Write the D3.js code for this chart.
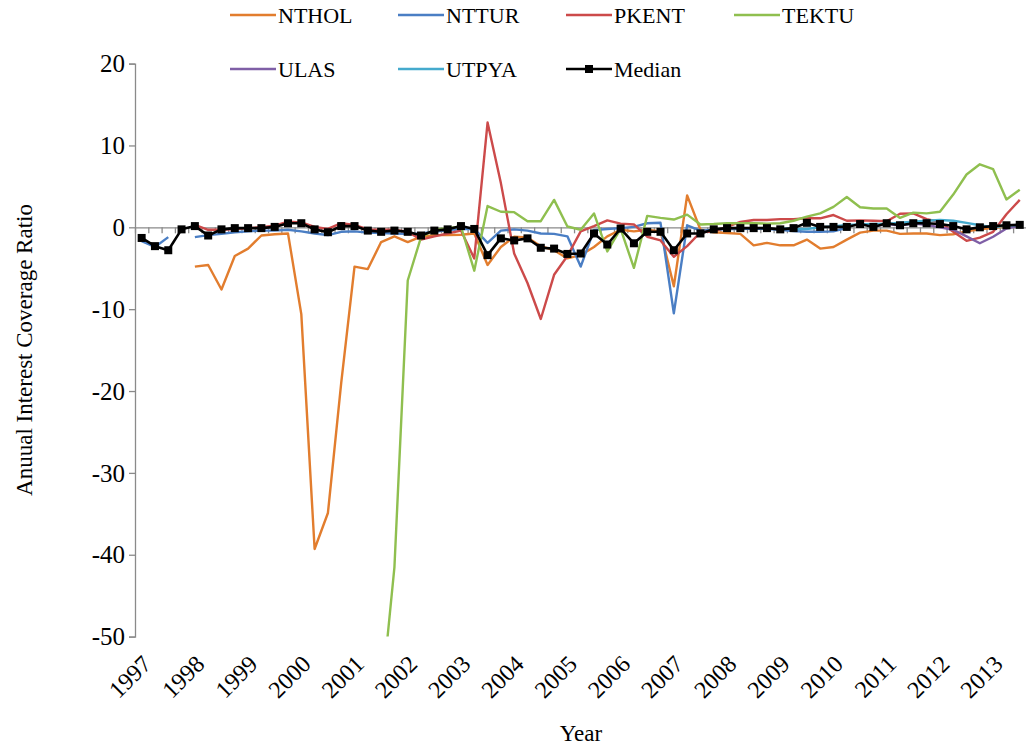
<!DOCTYPE html>
<html>
<head>
<meta charset="utf-8">
<script src="https://cdn.jsdelivr.net/npm/d3@7"></script>
<style>
  body { margin: 0; background: #fff; }
  svg text { font-family: "Liberation Serif", "Times New Roman", Times, serif; fill: #000; }
</style>
</head>
<body>
<div id="chart"></div>
<script>
const years = ['1997','1998','1999','2000','2001','2002','2003','2004','2005','2006','2007','2008','2009','2010','2011','2012','2013'];
const quarters = years.flatMap(y => ['Q1','Q2','Q3','Q4'].map(q => y + q)).slice(0, 67);
const yTicks = [-50, -40, -30, -20, -10, 0, 10, 20];

const nthol = [null,null,null,null,-4.8,-4.6,-7.6,-3.5,-2.6,-1.0,-0.85,-0.75,-10.6,-39.3,-34.9,-19,
  -4.8,-5.1,-1.8,-1.1,-1.8,-1.15,-0.95,-0.95,-0.9,-0.75,-4.6,-2.4,-1.15,-1.25,-2.3,-2.8,
  -3.8,-3.4,-2.4,-1.1,-0.3,-0.5,-0.3,-0.5,-7.2,3.9,-0.3,-0.6,-0.7,-0.8,-2.2,-1.9,
  -2.2,-2.2,-1.5,-2.6,-2.4,-1.5,-0.65,-0.4,-0.4,-0.8,-0.75,-0.75,-0.95,-0.85,-0.5,-0.25,-0.05,0.1,0.2];
const nttur = [-1.7,-2.4,-1.2,null,-1.2,-0.95,-0.8,-0.6,-0.5,-0.4,-0.4,-0.3,-0.5,-0.75,-0.95,-0.55,
  -0.5,-0.65,-0.7,-0.75,-0.8,-0.75,-0.55,-0.35,-0.2,-0.2,-1.9,-0.4,-0.25,-0.4,-0.75,-0.8,
  -1.1,-4.8,-0.35,-0.2,-0.1,0.05,0.5,0.55,-10.5,0.25,-0.4,-0.3,-0.2,-0.2,-0.15,-0.2,
  -0.3,-0.45,-0.55,-0.55,-0.5,-0.05,null,null,null,null,null,null,null,null,null,null,null,null,null];
const pkent = [null,null,null,null,0.3,-0.3,-0.3,-0.2,-0.1,0.0,0.2,0.7,0.6,0.05,-0.2,0.5,
  0.3,-0.25,-0.3,-0.3,-0.55,-1.5,-1.1,-0.75,-0.4,-3.8,12.8,5.4,-3.2,-6.8,-11.2,-5.8,
  -3.5,-0.5,0.15,0.85,0.45,0.35,-1.15,-1.6,-3.6,-2.3,-0.6,-0.5,0.05,0.65,0.9,0.9,
  1.0,1.0,1.1,1.1,1.5,0.8,0.85,0.8,0.75,1.65,1.7,1.0,0.65,-0.55,-1.65,-1.25,-0.55,1.6,3.35];
const tektu = [null,null,null,null,null,null,null,null,null,null,null,null,null,null,null,null,
  null,null,-58,-41.5,-6.5,-1.2,-0.3,-0.1,0.1,-5.3,2.6,1.9,1.85,0.75,0.75,3.35,
  0.1,-0.3,1.7,-2.95,-0.2,-4.95,1.4,1.15,0.95,1.55,0.35,0.4,0.5,0.5,0.5,0.45,
  0.5,0.8,1.3,1.7,2.5,3.7,2.45,2.3,2.3,1.15,1.8,1.7,1.9,4.0,6.45,7.7,7.1,3.4,4.6];
const ulas = [null,null,null,null,null,null,null,null,null,null,null,null,null,null,null,null,
  null,null,null,null,null,null,null,null,null,null,null,null,null,null,null,null,
  null,null,null,null,null,null,null,null,null,null,null,null,null,null,null,null,
  null,null,null,null,null,null,null,0.1,0.4,0.2,0.45,0.3,0.0,-0.3,-1.1,-1.95,-1.15,-0.15,0.2];
const utpya = [null,null,null,null,null,null,null,null,null,null,null,null,null,null,null,null,
  null,null,null,null,null,null,null,null,null,null,null,null,null,null,null,null,
  null,null,null,null,null,null,null,null,null,null,null,null,null,null,null,null,
  -0.1,-0.2,-0.2,0.0,0.1,0.3,0.35,0.4,0.4,0.55,0.7,0.8,0.9,0.8,0.55,0.25,0.0,0.2,0.3];
const median = [-1.3,-2.3,-2.8,-0.25,0.15,-1.0,-0.25,-0.1,-0.1,-0.1,0.05,0.5,0.5,-0.25,-0.6,0.15,
  0.15,-0.4,-0.55,-0.4,-0.55,-1.0,-0.4,-0.25,0.15,-0.2,-3.4,-1.35,-1.6,-1.35,-2.5,-2.6,
  -3.25,-3.2,-0.75,-2.1,-0.15,-1.95,-0.55,-0.55,-2.8,-0.75,-0.75,-0.25,-0.1,-0.1,-0.1,-0.1,
  -0.25,-0.1,0.55,0.05,0.05,0.05,0.4,0.05,0.5,0.25,0.5,0.5,0.4,0.15,-0.25,0.0,0.15,0.25,0.3];

const series = [
  { name: 'NTHOL', values: nthol, color: '#E27D2E' },
  { name: 'NTTUR', values: nttur, color: '#4A7EC4' },
  { name: 'PKENT', values: pkent, color: '#CC4A4A' },
  { name: 'TEKTU', values: tektu, color: '#8FBF4F' },
  { name: 'ULAS', values: ulas, color: '#7F5FA6' },
  { name: 'UTPYA', values: utpya, color: '#45AACD' },
  { name: 'Median', values: median, color: '#000000', marker: true }
];

const serif = '"Liberation Serif", "Times New Roman", Times, serif';
const width = 1026, height = 747;
const plot = { left: 135, right: 1026.4, top: 63.6, bottom: 636.6 };
const axisColor = '#8a8a8a';

const svg = d3.select('#chart').append('svg')
  .attr('width', width)
  .attr('height', height)
  .attr('font-family', serif);

const x = d3.scaleBand().domain(quarters).range([plot.left, plot.right]).paddingInner(0).paddingOuter(0);
const cx = q => x(q) + x.bandwidth() / 2;
const y = d3.scaleLinear().domain([-50, 20]).range([plot.bottom, plot.top]);

// y axis
const yAxis = svg.append('g')
  .attr('transform', `translate(${plot.left},0)`)
  .call(d3.axisLeft(y).tickValues(yTicks).tickSize(6).tickSizeOuter(6).tickPadding(4)
    .tickFormat(d => String(d)));
yAxis.attr('font-family', serif).attr('font-size', 25);
yAxis.select('.domain').attr('stroke', axisColor).attr('stroke-width', 1.3);
yAxis.selectAll('.tick line').attr('stroke', axisColor).attr('stroke-width', 1.3);
yAxis.selectAll('.tick text')
  .style('font-family', serif)
  .attr('fill', '#000')
  .attr('dy', '0.33em');

// category tick marks along the zero line
const xBound = d3.scaleLinear().domain([0, quarters.length]).range([plot.left, plot.right]);
const xAxis = svg.append('g')
  .attr('transform', `translate(0,${y(0)})`)
  .call(d3.axisBottom(xBound).tickValues(d3.range(0, quarters.length + 1)).tickSize(6).tickSizeOuter(0).tickFormat(''));
xAxis.select('.domain').attr('stroke', axisColor).attr('stroke-width', 1.3);
xAxis.selectAll('.tick line').attr('stroke', axisColor).attr('stroke-width', 1.3);

// year labels at the bottom
const yearAxis = svg.append('g')
  .attr('transform', `translate(0,${plot.bottom})`)
  .call(d3.axisBottom(x).tickValues(years.map(yr => yr + 'Q1')).tickSize(0).tickFormat(d => d.slice(0, 4)));
yearAxis.attr('font-family', serif).attr('font-size', 24);
yearAxis.select('.domain').remove();
yearAxis.selectAll('.tick text')
  .style('font-family', serif)
  .attr('fill', '#000')
  .attr('text-anchor', 'end')
  .attr('dy', null)
  .attr('y', 0)
  .attr('transform', 'translate(11,29) rotate(-45)');

// clip lines to plot area
svg.append('clipPath').attr('id', 'plotclip')
  .append('rect')
  .attr('x', plot.left).attr('y', plot.top - 10)
  .attr('width', plot.right - plot.left + 10).attr('height', plot.bottom - plot.top + 10);

const line = d3.line()
  .defined(d => d.v !== null)
  .x(d => cx(d.q))
  .y(d => y(d.v));

const lines = svg.append('g').attr('clip-path', 'url(#plotclip)');
series.forEach(s => {
  const pts = s.values.map((v, i) => ({ q: quarters[i], v }));
  lines.append('path')
    .datum(pts)
    .attr('fill', 'none')
    .attr('stroke', s.color)
    .attr('stroke-width', s.marker ? 2.6 : 2.4)
    .attr('stroke-linejoin', 'round')
    .attr('d', line);
  if (s.marker) {
    lines.selectAll('rect.mk')
      .data(pts.filter(d => d.v !== null))
      .enter().append('rect')
      .attr('class', 'mk')
      .attr('x', d => cx(d.q) - 4)
      .attr('y', d => y(d.v) - 4)
      .attr('width', 8)
      .attr('height', 8)
      .attr('fill', '#000');
  }
});

// axis titles
svg.append('text')
  .attr('x', 581).attr('y', 741)
  .attr('text-anchor', 'middle')
  .style('font-family', serif)
  .style('font-size', '23px')
  .text('Year');

svg.append('text')
  .attr('transform', 'translate(32,350) rotate(-90)')
  .attr('text-anchor', 'middle')
  .style('font-family', serif)
  .style('font-size', '23px')
  .text('Anuual Interest Coverage Ratio');

// legend
const legendX = [230, 398, 566, 734];
const legendY = [15, 69];
series.forEach((s, i) => {
  const col = i < 4 ? i : i - 4;
  const row = i < 4 ? 0 : 1;
  const g = svg.append('g').attr('transform', `translate(${legendX[col]},${legendY[row]})`);
  g.append('line')
    .attr('x1', 0).attr('x2', 46)
    .attr('y1', 0).attr('y2', 0)
    .attr('stroke', s.color)
    .attr('stroke-width', 2.6);
  if (s.marker) {
    g.append('rect').attr('x', 19).attr('y', -4).attr('width', 8).attr('height', 8).attr('fill', '#000');
  }
  g.append('text')
    .attr('x', 48).attr('y', 0)
    .attr('dy', '0.35em')
    .style('font-family', serif)
    .style('font-size', '22px')
    .text(s.name);
});
</script>
</body>
</html>
